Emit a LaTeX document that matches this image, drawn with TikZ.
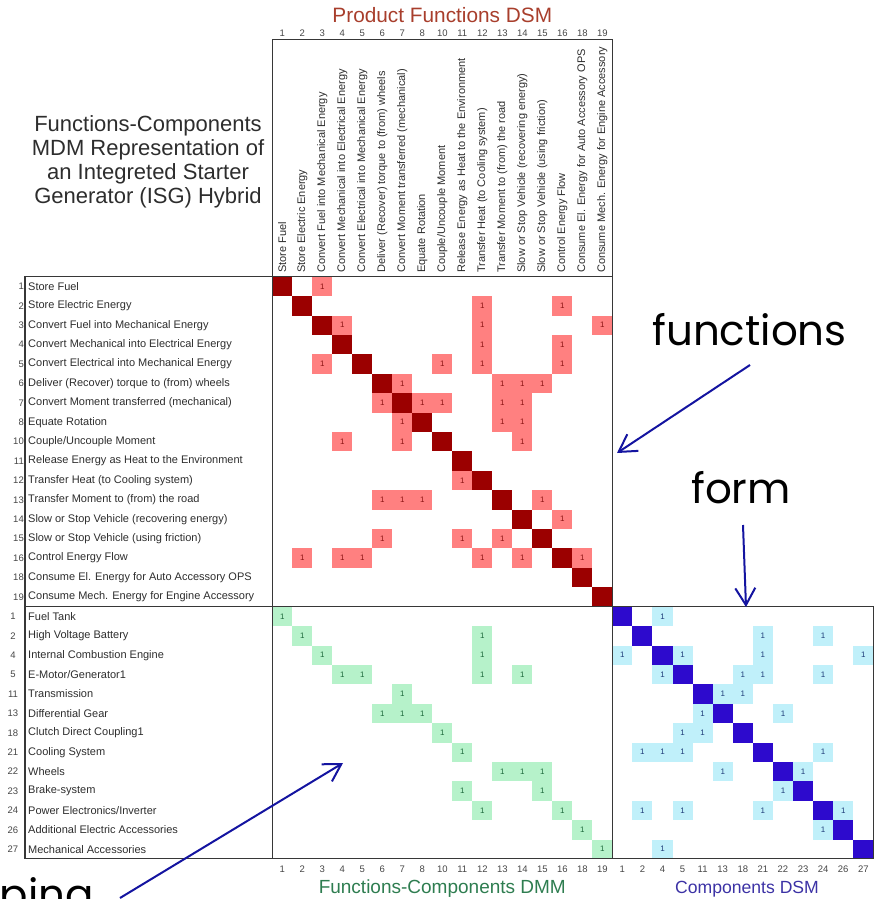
\documentclass[tikz,border=0pt]{standalone}
\usepackage{fontspec}
\setmainfont{Liberation Sans}
\newfontfamily\gothicfont{Poppins}
\usetikzlibrary{arrows.meta}

\definecolor{labelgray}{RGB}{45,45,45}
\definecolor{numgray}{RGB}{70,70,70}
\definecolor{framegray}{RGB}{55,55,55}
\definecolor{fdark}{RGB}{155,0,0}
\definecolor{fpink}{RGB}{255,128,128}
\definecolor{fpinktext}{RGB}{140,20,20}
\definecolor{dgreen}{RGB}{182,242,202}
\definecolor{dgreentext}{RGB}{30,105,60}
\definecolor{cdark}{RGB}{45,10,205}
\definecolor{ccyan}{RGB}{192,240,250}
\definecolor{ccyantext}{RGB}{30,60,120}
\definecolor{titlered}{RGB}{168,62,44}
\definecolor{titlegreen}{RGB}{46,125,80}
\definecolor{titleblue}{RGB}{60,50,165}
\definecolor{arrowblue}{RGB}{20,20,160}

\begin{document}
\begin{tikzpicture}[x=1pt,y=-1pt,
  lbl/.style={font=\fontsize{11}{12}\selectfont, text=labelgray, inner sep=0pt},
  num/.style={font=\fontsize{9.5}{11}\selectfont, text=numgray, inner sep=0pt},
  cellbase/.style={minimum width=20pt, minimum height=19.4pt, inner sep=0pt, outer sep=0pt, font=\fontsize{8}{9}\selectfont},
  fdiag/.style={cellbase, fill=fdark},
  fcell/.style={cellbase, fill=fpink, text=fpinktext},
  dcell/.style={cellbase, fill=dgreen, text=dgreentext},
  cdiag/.style={cellbase, fill=cdark, minimum width=20.08pt},
  ccell/.style={cellbase, fill=ccyan, text=ccyantext, minimum width=20.08pt},
  frame/.style={draw=framegray, line width=1.4pt},
  arr/.style={draw=arrowblue, line width=2pt, -{Straight Barb[length=17pt,width=20pt]}},
  big/.style={font=\gothicfont\fontsize{42}{44}\selectfont, inner sep=0pt, text=black},
  heading/.style={inner sep=0pt},
]
\useasboundingbox (0,0) rectangle (883,899);

% ---------- title block ----------
\node[font=\fontsize{22}{24}\selectfont, text=labelgray, align=center, inner sep=0pt]
  (title) at (148,162) {Functions-Components\\MDM Representation of\\an Integreted Starter\\Generator (ISG) Hybrid};

\node[heading, font=\fontsize{20.8}{22}\selectfont, text=titlered] (pfdsm) at (442.3,15) {Product Functions DSM};
\node[heading, font=\fontsize{19}{21}\selectfont, text=titlegreen] (fcdmm) at (442.3,889) {Functions-Components DMM};
\node[heading, font=\fontsize{17.6}{19}\selectfont, text=titleblue] (cdsm) at (747,889) {Components DSM};

% ---------- functions: row labels, column headers, numbers ----------
\foreach \n/\t [count=\i] in {
  1/{Store Fuel},
  2/{Store Electric Energy},
  3/{Convert Fuel into Mechanical Energy},
  4/{Convert Mechanical into Electrical Energy},
  5/{Convert Electrical into Mechanical Energy},
  6/{Deliver (Recover) torque to (from) wheels},
  7/{Convert Moment transferred (mechanical)},
  8/{Equate Rotation},
  10/{Couple/Uncouple Moment},
  11/{Release Energy as Heat to the Environment},
  12/{Transfer Heat (to Cooling system)},
  13/{Transfer Moment to (from) the road},
  14/{Slow or Stop Vehicle (recovering energy)},
  15/{Slow or Stop Vehicle (using friction)},
  16/{Control Energy Flow},
  18/{Consume El. Energy for Auto Accessory OPS},
  19/{Consume Mech. Energy for Engine Accessory}} {
  \node[lbl, anchor=west] (fl-\i) at (28,267+19.4*\i) {\t};
  \node[num, anchor=east] (fn-\i) at (24,267+19.4*\i) {\n};
  \node[lbl, rotate=90, anchor=west] (fh-\i) at (262.3+20*\i,273) {\t};
  \node[num] (ft-\i) at (262.3+20*\i,33) {\n};
  \node[num] (fb-\i) at (262.3+20*\i,869) {\n};
  \node[fdiag] (fd-\i) at (262.3+20*\i,267+19.4*\i) {};
}

% ---------- components: row labels and numbers ----------
\foreach \n/\t [count=\k] in {
  1/{Fuel Tank},
  2/{High Voltage Battery},
  4/{Internal Combustion Engine},
  5/{E-Motor/Generator1},
  11/{Transmission},
  13/{Differential Gear},
  18/{Clutch Direct Coupling1},
  21/{Cooling System},
  22/{Wheels},
  23/{Brake-system},
  24/{Power Electronics/Inverter},
  26/{Additional Electric Accessories},
  27/{Mechanical Accessories}} {
  \node[lbl, anchor=west] (cl-\k) at (28,597+19.4*\k) {\t};
  \node[num] (cn-\k) at (13,597+19.4*\k) {\n};
  \node[num] (cb-\k) at (602.26+20.08*\k,869) {\n};
  \node[cdiag] (cd-\k) at (602.26+20.08*\k,597+19.4*\k) {};
}

% ---------- product functions DSM entries ----------
\foreach \i/\cols in {1/{3}, 2/{11,15}, 3/{4,11,17}, 4/{11,15}, 5/{3,9,11,15},
  6/{7,12,13,14}, 7/{6,8,9,12,13}, 8/{7,12,13}, 9/{4,7,13}, 11/{10},
  12/{6,7,8,14}, 13/{15}, 14/{6,10,12}, 15/{2,4,5,11,13,16}} {
  \foreach \j in \cols {
    \node[fcell] (f-\i-\j) at (262.3+20*\j,267+19.4*\i) {1};
  }
}

% ---------- functions-components DMM entries ----------
\foreach \k/\cols in {1/{1}, 2/{2,11}, 3/{3,11}, 4/{4,5,11,13}, 5/{7}, 6/{6,7,8},
  7/{9}, 8/{10}, 9/{12,13,14}, 10/{10,14}, 11/{11,15}, 12/{16}, 13/{17}} {
  \foreach \j in \cols {
    \node[dcell] (d-\k-\j) at (262.3+20*\j,597+19.4*\k) {1};
  }
}

% ---------- components DSM entries ----------
\foreach \k/\cols in {1/{3}, 2/{8,11}, 3/{1,4,8,13}, 4/{3,7,8,11}, 5/{6,7},
  6/{5,9}, 7/{4,5}, 8/{2,3,4,11}, 9/{6,10}, 10/{9}, 11/{2,4,8,12},
  12/{11}, 13/{3}} {
  \foreach \m in \cols {
    \node[ccell] (c-\k-\m) at (602.26+20.08*\m,597+19.4*\k) {1};
  }
}

% ---------- frames ----------
\draw[frame] (272.3,39.3) rectangle (612.3,276.7);
\draw[frame] (25,276.7) rectangle (612.3,858.3);
\draw[frame] (272.3,276.7) -- (272.3,858.3);
\draw[frame] (25,606.7) -- (873.3,606.7);
\draw[frame] (612.3,606.7) rectangle (873.3,858.3);

% ---------- annotations ----------
\node[big, anchor=base] (wfun) at (749.5,345) {functions};
\node[big, anchor=base] (wform) at (741,503) {form};
\node[big, anchor=base east] (wmap) at (94,909) {ping};

\coordinate (fun-tail) at (750,365);
\coordinate (fun-head) at (617,453);
\coordinate (form-tail) at (743,525);
\coordinate (form-head) at (746,607);
\coordinate (map-tail) at (120,898);
\coordinate (map-head) at (343,763);

\draw[arr] (fun-tail) -- (fun-head);
\draw[arr] (form-tail) -- (form-head);
\draw[arr] (map-tail) -- (map-head);
\end{tikzpicture}
\end{document}
